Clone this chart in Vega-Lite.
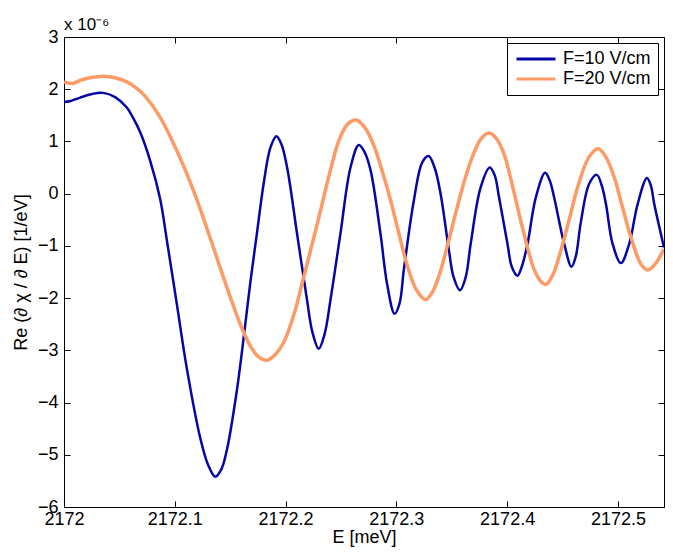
{
  "$schema": "https://vega.github.io/schema/vega-lite/v6.json",
  "width": 600,
  "height": 470,
  "autosize": "none",
  "padding": {"left": 64, "top": 37, "right": 9, "bottom": 45},
  "background": "white",
  "config": {
    "font": "Liberation Sans",
    "view": {"stroke": "black", "strokeWidth": 1},
    "axis": {
      "labelFont": "Liberation Sans", "labelFontSize": 18, "labelColor": "black",
      "titleFont": "Liberation Sans", "titleFontSize": 18, "titleFontWeight": "normal", "titleColor": "black",
      "tickColor": "black", "tickSize": -6, "tickWidth": 1, "domain": false, "grid": false,
      "labelFlush": false, "labelOverlap": false
    },
    "legend": {
      "labelFont": "Liberation Sans", "labelFontSize": 18, "labelColor": "black",
      "strokeColor": "black", "fillColor": "white", "padding": 7,
      "symbolType": "M-1,0H5", "symbolStrokeWidth": 3, "symbolSize": 169,
      "rowPadding": 2, "labelOffset": 31, "offset": 6
    }
  },
  "title": {"text": "x 10⁻⁶", "anchor": "start", "frame": "group", "fontSize": 17, "fontWeight": "normal", "font": "Liberation Sans", "color": "black", "offset": 0, "dy": 6},
  "datasets": {
    "d": [
      {"s": "F=10 V/cm", "E": 2172.0000, "v": 1.76},
      {"s": "F=10 V/cm", "E": 2172.0054, "v": 1.77},
      {"s": "F=10 V/cm", "E": 2172.0145, "v": 1.84},
      {"s": "F=10 V/cm", "E": 2172.0253, "v": 1.91},
      {"s": "F=10 V/cm", "E": 2172.0353, "v": 1.93},
      {"s": "F=10 V/cm", "E": 2172.0461, "v": 1.85},
      {"s": "F=10 V/cm", "E": 2172.0567, "v": 1.65},
      {"s": "F=10 V/cm", "E": 2172.0624, "v": 1.45},
      {"s": "F=10 V/cm", "E": 2172.0687, "v": 1.18},
      {"s": "F=10 V/cm", "E": 2172.0778, "v": 0.63},
      {"s": "F=10 V/cm", "E": 2172.0868, "v": -0.10},
      {"s": "F=10 V/cm", "E": 2172.0929, "v": -0.90},
      {"s": "F=10 V/cm", "E": 2172.1019, "v": -2.12},
      {"s": "F=10 V/cm", "E": 2172.1109, "v": -3.35},
      {"s": "F=10 V/cm", "E": 2172.1230, "v": -4.68},
      {"s": "F=10 V/cm", "E": 2172.1302, "v": -5.20},
      {"s": "F=10 V/cm", "E": 2172.1365, "v": -5.42},
      {"s": "F=10 V/cm", "E": 2172.1420, "v": -5.28},
      {"s": "F=10 V/cm", "E": 2172.1471, "v": -4.90},
      {"s": "F=10 V/cm", "E": 2172.1561, "v": -3.76},
      {"s": "F=10 V/cm", "E": 2172.1637, "v": -2.49},
      {"s": "F=10 V/cm", "E": 2172.1682, "v": -1.70},
      {"s": "F=10 V/cm", "E": 2172.1742, "v": -0.75},
      {"s": "F=10 V/cm", "E": 2172.1802, "v": 0.19},
      {"s": "F=10 V/cm", "E": 2172.1863, "v": 0.88},
      {"s": "F=10 V/cm", "E": 2172.1917, "v": 1.10},
      {"s": "F=10 V/cm", "E": 2172.1962, "v": 0.95},
      {"s": "F=10 V/cm", "E": 2172.2014, "v": 0.50},
      {"s": "F=10 V/cm", "E": 2172.2104, "v": -0.77},
      {"s": "F=10 V/cm", "E": 2172.2194, "v": -2.04},
      {"s": "F=10 V/cm", "E": 2172.2242, "v": -2.65},
      {"s": "F=10 V/cm", "E": 2172.2299, "v": -2.97},
      {"s": "F=10 V/cm", "E": 2172.2351, "v": -2.70},
      {"s": "F=10 V/cm", "E": 2172.2405, "v": -2.04},
      {"s": "F=10 V/cm", "E": 2172.2495, "v": -0.77},
      {"s": "F=10 V/cm", "E": 2172.2586, "v": 0.50},
      {"s": "F=10 V/cm", "E": 2172.2661, "v": 0.93},
      {"s": "F=10 V/cm", "E": 2172.2712, "v": 0.80},
      {"s": "F=10 V/cm", "E": 2172.2767, "v": 0.45},
      {"s": "F=10 V/cm", "E": 2172.2857, "v": -0.77},
      {"s": "F=10 V/cm", "E": 2172.2918, "v": -1.75},
      {"s": "F=10 V/cm", "E": 2172.2984, "v": -2.30},
      {"s": "F=10 V/cm", "E": 2172.3029, "v": -2.10},
      {"s": "F=10 V/cm", "E": 2172.3068, "v": -1.45},
      {"s": "F=10 V/cm", "E": 2172.3158, "v": -0.13},
      {"s": "F=10 V/cm", "E": 2172.3234, "v": 0.60},
      {"s": "F=10 V/cm", "E": 2172.3291, "v": 0.72},
      {"s": "F=10 V/cm", "E": 2172.3345, "v": 0.50},
      {"s": "F=10 V/cm", "E": 2172.3400, "v": -0.01},
      {"s": "F=10 V/cm", "E": 2172.3475, "v": -1.09},
      {"s": "F=10 V/cm", "E": 2172.3517, "v": -1.60},
      {"s": "F=10 V/cm", "E": 2172.3574, "v": -1.85},
      {"s": "F=10 V/cm", "E": 2172.3626, "v": -1.60},
      {"s": "F=10 V/cm", "E": 2172.3671, "v": -0.96},
      {"s": "F=10 V/cm", "E": 2172.3761, "v": 0.12},
      {"s": "F=10 V/cm", "E": 2172.3843, "v": 0.50},
      {"s": "F=10 V/cm", "E": 2172.3888, "v": 0.35},
      {"s": "F=10 V/cm", "E": 2172.3927, "v": -0.07},
      {"s": "F=10 V/cm", "E": 2172.4003, "v": -0.96},
      {"s": "F=10 V/cm", "E": 2172.4042, "v": -1.40},
      {"s": "F=10 V/cm", "E": 2172.4093, "v": -1.57},
      {"s": "F=10 V/cm", "E": 2172.4132, "v": -1.40},
      {"s": "F=10 V/cm", "E": 2172.4184, "v": -0.96},
      {"s": "F=10 V/cm", "E": 2172.4259, "v": -0.07},
      {"s": "F=10 V/cm", "E": 2172.4343, "v": 0.40},
      {"s": "F=10 V/cm", "E": 2172.4385, "v": 0.25},
      {"s": "F=10 V/cm", "E": 2172.4424, "v": -0.07},
      {"s": "F=10 V/cm", "E": 2172.4515, "v": -0.96},
      {"s": "F=10 V/cm", "E": 2172.4581, "v": -1.40},
      {"s": "F=10 V/cm", "E": 2172.4620, "v": -1.20},
      {"s": "F=10 V/cm", "E": 2172.4665, "v": -0.55},
      {"s": "F=10 V/cm", "E": 2172.4741, "v": 0.19},
      {"s": "F=10 V/cm", "E": 2172.4810, "v": 0.36},
      {"s": "F=10 V/cm", "E": 2172.4855, "v": 0.15},
      {"s": "F=10 V/cm", "E": 2172.4892, "v": -0.20},
      {"s": "F=10 V/cm", "E": 2172.4952, "v": -0.96},
      {"s": "F=10 V/cm", "E": 2172.5027, "v": -1.33},
      {"s": "F=10 V/cm", "E": 2172.5102, "v": -0.96},
      {"s": "F=10 V/cm", "E": 2172.5178, "v": -0.20},
      {"s": "F=10 V/cm", "E": 2172.5262, "v": 0.30},
      {"s": "F=10 V/cm", "E": 2172.5298, "v": 0.15},
      {"s": "F=10 V/cm", "E": 2172.5328, "v": -0.20},
      {"s": "F=10 V/cm", "E": 2172.5416, "v": -1.03},
      {"s": "F=20 V/cm", "E": 2172.0000, "v": 2.14},
      {"s": "F=20 V/cm", "E": 2172.0036, "v": 2.12},
      {"s": "F=20 V/cm", "E": 2172.0081, "v": 2.11},
      {"s": "F=20 V/cm", "E": 2172.0145, "v": 2.17},
      {"s": "F=20 V/cm", "E": 2172.0235, "v": 2.22},
      {"s": "F=20 V/cm", "E": 2172.0353, "v": 2.25},
      {"s": "F=20 V/cm", "E": 2172.0461, "v": 2.22},
      {"s": "F=20 V/cm", "E": 2172.0567, "v": 2.14},
      {"s": "F=20 V/cm", "E": 2172.0642, "v": 2.04},
      {"s": "F=20 V/cm", "E": 2172.0717, "v": 1.90},
      {"s": "F=20 V/cm", "E": 2172.0868, "v": 1.46},
      {"s": "F=20 V/cm", "E": 2172.1019, "v": 0.82},
      {"s": "F=20 V/cm", "E": 2172.1169, "v": 0.06},
      {"s": "F=20 V/cm", "E": 2172.1320, "v": -0.85},
      {"s": "F=20 V/cm", "E": 2172.1410, "v": -1.42},
      {"s": "F=20 V/cm", "E": 2172.1501, "v": -1.98},
      {"s": "F=20 V/cm", "E": 2172.1591, "v": -2.50},
      {"s": "F=20 V/cm", "E": 2172.1682, "v": -2.92},
      {"s": "F=20 V/cm", "E": 2172.1754, "v": -3.12},
      {"s": "F=20 V/cm", "E": 2172.1833, "v": -3.19},
      {"s": "F=20 V/cm", "E": 2172.1908, "v": -3.08},
      {"s": "F=20 V/cm", "E": 2172.1983, "v": -2.85},
      {"s": "F=20 V/cm", "E": 2172.2073, "v": -2.33},
      {"s": "F=20 V/cm", "E": 2172.2161, "v": -1.62},
      {"s": "F=20 V/cm", "E": 2172.2254, "v": -0.85},
      {"s": "F=20 V/cm", "E": 2172.2324, "v": -0.25},
      {"s": "F=20 V/cm", "E": 2172.2405, "v": 0.45},
      {"s": "F=20 V/cm", "E": 2172.2487, "v": 1.05},
      {"s": "F=20 V/cm", "E": 2172.2568, "v": 1.35},
      {"s": "F=20 V/cm", "E": 2172.2640, "v": 1.41},
      {"s": "F=20 V/cm", "E": 2172.2721, "v": 1.25},
      {"s": "F=20 V/cm", "E": 2172.2797, "v": 0.92},
      {"s": "F=20 V/cm", "E": 2172.2870, "v": 0.45},
      {"s": "F=20 V/cm", "E": 2172.2948, "v": -0.13},
      {"s": "F=20 V/cm", "E": 2172.3025, "v": -0.78},
      {"s": "F=20 V/cm", "E": 2172.3099, "v": -1.38},
      {"s": "F=20 V/cm", "E": 2172.3183, "v": -1.85},
      {"s": "F=20 V/cm", "E": 2172.3264, "v": -2.03},
      {"s": "F=20 V/cm", "E": 2172.3327, "v": -1.88},
      {"s": "F=20 V/cm", "E": 2172.3400, "v": -1.47},
      {"s": "F=20 V/cm", "E": 2172.3460, "v": -1.00},
      {"s": "F=20 V/cm", "E": 2172.3520, "v": -0.50},
      {"s": "F=20 V/cm", "E": 2172.3595, "v": 0.10},
      {"s": "F=20 V/cm", "E": 2172.3671, "v": 0.62},
      {"s": "F=20 V/cm", "E": 2172.3761, "v": 1.04},
      {"s": "F=20 V/cm", "E": 2172.3836, "v": 1.16},
      {"s": "F=20 V/cm", "E": 2172.3906, "v": 1.05},
      {"s": "F=20 V/cm", "E": 2172.3972, "v": 0.76},
      {"s": "F=20 V/cm", "E": 2172.4048, "v": 0.15},
      {"s": "F=20 V/cm", "E": 2172.4123, "v": -0.52},
      {"s": "F=20 V/cm", "E": 2172.4190, "v": -1.08},
      {"s": "F=20 V/cm", "E": 2172.4243, "v": -1.45},
      {"s": "F=20 V/cm", "E": 2172.4304, "v": -1.68},
      {"s": "F=20 V/cm", "E": 2172.4349, "v": -1.74},
      {"s": "F=20 V/cm", "E": 2172.4412, "v": -1.56},
      {"s": "F=20 V/cm", "E": 2172.4485, "v": -1.09},
      {"s": "F=20 V/cm", "E": 2172.4560, "v": -0.50},
      {"s": "F=20 V/cm", "E": 2172.4636, "v": 0.12},
      {"s": "F=20 V/cm", "E": 2172.4738, "v": 0.70},
      {"s": "F=20 V/cm", "E": 2172.4822, "v": 0.86},
      {"s": "F=20 V/cm", "E": 2172.4892, "v": 0.70},
      {"s": "F=20 V/cm", "E": 2172.4967, "v": 0.31},
      {"s": "F=20 V/cm", "E": 2172.5040, "v": -0.25},
      {"s": "F=20 V/cm", "E": 2172.5118, "v": -0.84},
      {"s": "F=20 V/cm", "E": 2172.5208, "v": -1.35},
      {"s": "F=20 V/cm", "E": 2172.5269, "v": -1.46},
      {"s": "F=20 V/cm", "E": 2172.5335, "v": -1.35},
      {"s": "F=20 V/cm", "E": 2172.5416, "v": -1.06}
    ]
  },
  "data": {"name": "d"},
  "resolve": {"axis": {"x": "independent", "y": "independent"}},
  "layer": [
    {
      "transform": [{"filter": "datum.s === 'F=10 V/cm'"}],
      "mark": {"type": "line", "strokeWidth": 2.5, "interpolate": "catmull-rom", "clip": true},
      "encoding": {
        "x": {"field": "E", "type": "quantitative", "scale": {"domain": [2172, 2172.5416], "nice": false, "zero": false},
              "axis": {"orient": "bottom", "title": "E [meV]", "values": [2172, 2172.1, 2172.2, 2172.3, 2172.4, 2172.5], "format": "~f", "labelPadding": 9, "titlePadding": 0}},
        "y": {"field": "v", "type": "quantitative", "scale": {"domain": [-6, 3], "nice": false, "zero": false},
              "axis": {"orient": "left", "title": "Re (∂ χ / ∂ E) [1/eV]", "values": [-6, -5, -4, -3, -2, -1, 0, 1, 2, 3], "format": "~f", "labelPadding": 12, "titlePadding": 7}},
        "color": {"field": "s", "type": "nominal", "scale": {"domain": ["F=10 V/cm", "F=20 V/cm"], "range": ["#0606a8", "#fd9a65"]},
                  "legend": {"title": null, "orient": "top-right"}}
      }
    },
    {
      "transform": [{"filter": "datum.s === 'F=20 V/cm'"}],
      "mark": {"type": "line", "strokeWidth": 3.5, "interpolate": "catmull-rom", "clip": true},
      "encoding": {
        "x": {"field": "E", "type": "quantitative", "axis": null},
        "y": {"field": "v", "type": "quantitative", "axis": null},
        "color": {"field": "s", "type": "nominal"}
      }
    },
    {
      "mark": {"type": "line", "opacity": 0},
      "encoding": {
        "x": {"field": "E", "type": "quantitative",
              "axis": {"orient": "top", "title": null, "labels": false, "values": [2172, 2172.1, 2172.2, 2172.3, 2172.4, 2172.5]}},
        "y": {"field": "v", "type": "quantitative",
              "axis": {"orient": "right", "title": null, "labels": false, "values": [-6, -5, -4, -3, -2, -1, 0, 1, 2, 3]}},
        "detail": {"field": "s"}
      }
    }
  ]
}
